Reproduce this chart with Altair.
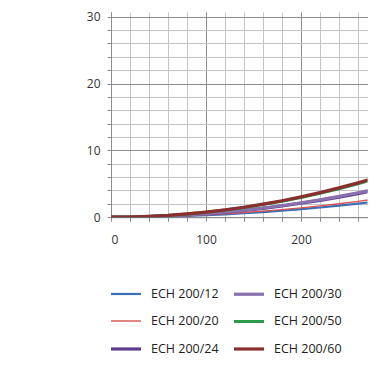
import altair as alt
import pandas as pd

x_vals = [0, 20, 40, 60, 80, 100, 120, 140, 160, 180, 200, 220, 240, 260, 280, 300]
ech12 = [0, 0.01, 0.05, 0.11, 0.19, 0.30, 0.43, 0.59, 0.77, 0.97, 1.20, 1.45, 1.73, 2.03, 2.35, 2.70]
ech20 = [0, 0.01, 0.06, 0.13, 0.22, 0.35, 0.50, 0.69, 0.90, 1.13, 1.40, 1.69, 2.02, 2.37, 2.74, 3.15]
ech24 = [0, 0.02, 0.08, 0.19, 0.33, 0.52, 0.75, 1.02, 1.33, 1.68, 2.08, 2.52, 3.00, 3.52, 4.08, 4.68]
ech30 = [0, 0.02, 0.09, 0.19, 0.35, 0.54, 0.78, 1.06, 1.38, 1.75, 2.16, 2.61, 3.11, 3.65, 4.23, 4.86]
ech50 = [0, 0.03, 0.12, 0.27, 0.47, 0.74, 1.07, 1.45, 1.89, 2.40, 2.96, 3.58, 4.26, 5.00, 5.80, 6.66]
ech60 = [0, 0.03, 0.12, 0.27, 0.49, 0.76, 1.09, 1.49, 1.95, 2.46, 3.04, 3.68, 4.38, 5.14, 5.96, 6.84]

series_names = ["ECH 200/12", "ECH 200/20", "ECH 200/24", "ECH 200/30", "ECH 200/50", "ECH 200/60"]
series_values = [ech12, ech20, ech24, ech30, ech50, ech60]
series_colors = ["#3b6eb5", "#d9534f", "#5e3c8f", "#8a70ae", "#2e9b4b", "#8b2e2e"]
series_widths = [2.2, 1.4, 3.2, 3.2, 3, 3.2]

x_major = [0, 100, 200]
x_minor = list(range(0, 271, 20))
y_major = [0, 10, 20, 30]
y_minor = list(range(0, 31, 2))

rows = []
for name, vals in zip(series_names, series_values):
    for xv, yv in zip(x_vals, vals):
        rows.append({"x": xv, "y": yv, "series": name})
df = pd.DataFrame(rows)

FONT = "Open Sans"
xs = alt.Scale(domain=[0, 270], nice=False, zero=True)
ys = alt.Scale(domain=[0, 30.7], nice=False, zero=True)

minor = alt.Chart(df).mark_line(opacity=0).encode(
    x=alt.X("x:Q", scale=xs, axis=alt.Axis(values=x_minor, grid=True, gridColor="#c4c4c4",
                                            gridWidth=1, labels=False, ticks=True, tickSize=4,
                                            tickColor="#8a8a8a", domain=False, title=None,
                                            orient="bottom")),
    y=alt.Y("y:Q", scale=ys, axis=alt.Axis(values=y_minor, grid=True, gridColor="#c4c4c4",
                                            gridWidth=1, labels=False, ticks=True, tickSize=4,
                                            tickColor="#8a8a8a", domain=False, title=None,
                                            orient="left")),
)

major = alt.Chart(df).mark_line(opacity=0).encode(
    x=alt.X("x:Q", scale=xs, axis=alt.Axis(values=x_major, grid=True, gridColor="#8c8c8c",
                                            gridWidth=1, labels=True, ticks=False, labelPadding=17,
                                            labelFont=FONT, labelFontSize=12, labelColor="#333333",
                                            domain=True, domainColor="#8c8c8c", title=None,
                                            orient="bottom")),
    y=alt.Y("y:Q", scale=ys, axis=alt.Axis(values=y_major, grid=True, gridColor="#8c8c8c",
                                            gridWidth=1, labels=True, ticks=False, labelPadding=11,
                                            labelFont=FONT, labelFontSize=12, labelColor="#333333",
                                            domain=True, domainColor="#8c8c8c", title=None,
                                            orient="left")),
)

leg = alt.Legend(orient="none", legendX=-2, legendY=265, columns=2, title=None,
                 symbolType="stroke", symbolSize=900, columnPadding=8, rowPadding=4,
                 labelFont=FONT, labelFontSize=12.5, labelColor="#222222", labelOffset=8,
                 padding=0)

lines = alt.Chart(df).mark_line(clip=True).encode(
    x=alt.X("x:Q", scale=xs, axis=None),
    y=alt.Y("y:Q", scale=ys, axis=None),
    color=alt.Color("series:N", sort=series_names,
                    scale=alt.Scale(domain=series_names, range=series_colors),
                    legend=leg),
    strokeWidth=alt.StrokeWidth("series:N", sort=series_names,
                                scale=alt.Scale(type="ordinal", domain=series_names, range=series_widths),
                                legend=leg),
    order=alt.Order("x:Q"),
)

chart = alt.layer(minor, major, lines).resolve_axis(x="independent", y="independent").properties(
    width=256.5, height=205.2,
    padding={"left": 103, "top": 4, "right": 0, "bottom": 143},
    autosize=alt.AutoSizeParams(type="none"),
    background="white",
).configure_view(stroke=None)

chart.save("out.html", embed_options={"renderer": "svg", "actions": False})
